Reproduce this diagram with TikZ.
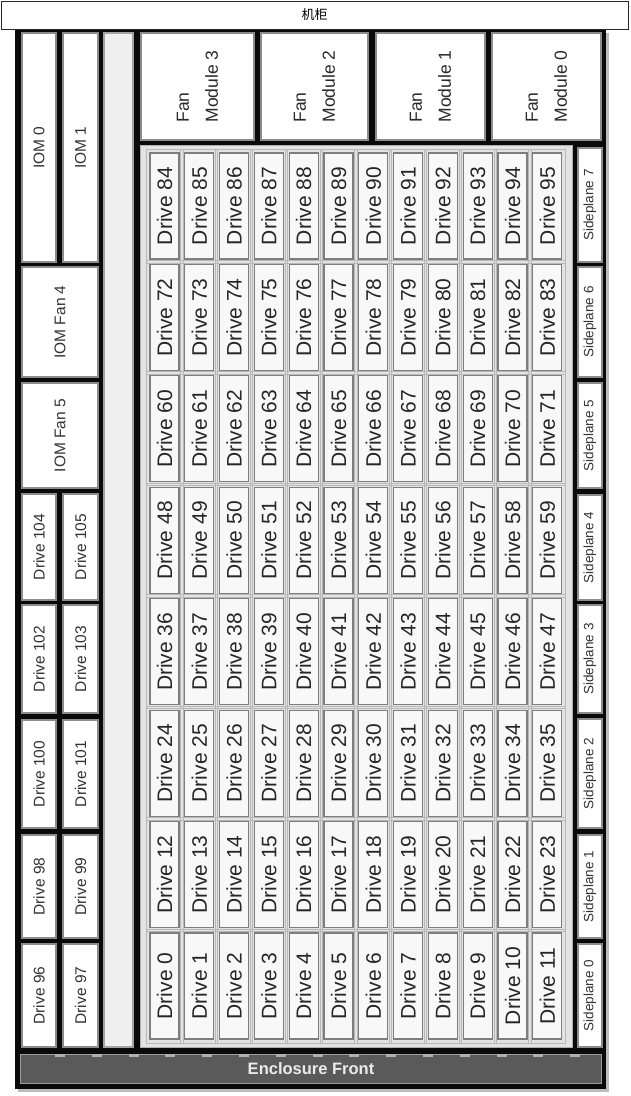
\documentclass[tikz,border=0pt]{standalone}
\usepackage{fontspec}
\setmainfont{Liberation Sans}
\newfontfamily\cjk{Noto Sans CJK SC}
\definecolor{encblack}{HTML}{0A0A0A}
\definecolor{boxgray}{HTML}{8C8C8C}
\definecolor{stripgray}{HTML}{EFEFEF}
\definecolor{gridbg}{HTML}{E3E3E3}
\definecolor{cellline}{HTML}{B8B8B8}
\definecolor{drivefill}{HTML}{F8F8F8}
\definecolor{driveline}{HTML}{7E7E7E}
\definecolor{frontbar}{HTML}{5A5A5A}
\definecolor{frontline}{HTML}{9C9C9C}
\definecolor{labeltext}{HTML}{333333}
\definecolor{shadowgray}{HTML}{BDBDBD}
% box macro: name, x1, y1, x2, y2, style, text
\newcommand\rbox[7]{\node[#6, rotate=90, minimum width={#5-#3}, minimum height={#4-#2}] (#1) at ({(#2+#4)/2},{(#3+#5)/2}) {#7};}
\begin{document}
\begin{tikzpicture}[x=1pt,y=-1pt,
  panel/.style={draw=boxgray, line width=1.6pt, fill=white, inner sep=0pt, text=labeltext, font=\fontsize{15.5}{17}\selectfont},
  fanbox/.style={panel, font=\fontsize{17.5}{29}\selectfont, align=left, text=labeltext!80!black},
  sidebox/.style={panel, font=\fontsize{13.5}{15}\selectfont},
  stripbox/.style={draw=boxgray!80, line width=1.2pt, fill=stripgray, inner sep=0pt},
  gridbox/.style={draw=boxgray!70, line width=1pt, fill=gridbg, inner sep=0pt},
  drivebox/.style={draw=driveline, line width=1.1pt, fill=drivefill, inner sep=0pt, text=black!85, font=\fontsize{21}{22}\selectfont},
  frontbox/.style={draw=frontline, line width=1.4pt, fill=frontbar, inner sep=0pt, text=white!92!black, font=\bfseries\fontsize{16.5}{18}\selectfont},
  titlebox/.style={draw=black!85, line width=0.8pt, fill=white, inner sep=0pt, font=\cjk\fontsize{13}{14}\selectfont}
]
\useasboundingbox (0,0) rectangle (630,1096);
% title
\node[titlebox, minimum width=627pt, minimum height=28pt] (title) at (314.5,15) {机柜};
% enclosure shadow and frame
\fill[shadowgray] (18,33) rectangle (609,1092);
\fill[encblack] (15,30) rectangle (606,1089);
% left column
\rbox{iom0}{22}{33}{56}{262}{panel}{IOM 0}
\rbox{iom1}{63}{33}{98}{262}{panel}{IOM 1}
\rbox{iomfan4}{22}{267}{98}{377}{panel}{IOM Fan 4}
\rbox{iomfan5}{22}{383}{98}{488}{panel}{IOM Fan 5}
\rbox{d104}{22}{494}{56}{600}{panel}{Drive 104}
\rbox{d105}{63}{494}{98}{600}{panel}{Drive 105}
\rbox{d102}{22}{605}{56}{713}{panel}{Drive 102}
\rbox{d103}{63}{605}{98}{713}{panel}{Drive 103}
\rbox{d100}{22}{720}{56}{828}{panel}{Drive 100}
\rbox{d101}{63}{720}{98}{828}{panel}{Drive 101}
\rbox{d98}{22}{835}{56}{938}{panel}{Drive 98}
\rbox{d99}{63}{835}{98}{938}{panel}{Drive 99}
\rbox{d96}{22}{944}{56}{1047}{panel}{Drive 96}
\rbox{d97}{63}{944}{98}{1047}{panel}{Drive 97}
% blank strip
\rbox{strip}{104}{33}{133}{1047}{stripbox}{}
% fan modules
\rbox{fan3}{141}{33}{254}{140}{fanbox}{Fan\\Module 3}
\rbox{fan2}{261}{33}{368}{140}{fanbox}{Fan\\Module 2}
\rbox{fan1}{376}{33}{485}{140}{fanbox}{Fan\\Module 1}
\rbox{fan0}{492}{33}{601}{140}{fanbox}{Fan\\Module 0}
% drive grid background
\rbox{grid}{140}{145}{572}{1047}{gridbox}{}
\foreach \k in {0,...,7}{
  \foreach \j in {0,...,11}{
    \pgfmathsetmacro\xa{150+34.8*\j}
    \pgfmathsetmacro\ya{153+111.43*\k}
    \draw[cellline, line width=0.9pt] (\xa-4,\ya-4) rectangle (\xa+33,\ya+110);
  }
}
\foreach \k in {0,...,7}{
  \foreach \j in {0,...,11}{
    \pgfmathtruncatemacro\n{(7-\k)*12+\j}
    \pgfmathsetmacro\xa{150+34.8*\j}
    \pgfmathsetmacro\ya{153+111.43*\k}
    \pgfmathsetmacro\xb{\xa+29}
    \pgfmathsetmacro\yb{\ya+106}
    \rbox{drv\n}{\xa}{\ya}{\xb}{\yb}{drivebox}{Drive \n}
  }
}
% sideplanes
\rbox{sp7}{578}{148}{602}{262}{sidebox}{Sideplane 7}
\rbox{sp6}{578}{267}{602}{377}{sidebox}{Sideplane 6}
\rbox{sp5}{578}{383}{602}{488}{sidebox}{Sideplane 5}
\rbox{sp4}{578}{495}{602}{600}{sidebox}{Sideplane 4}
\rbox{sp3}{578}{605}{602}{713}{sidebox}{Sideplane 3}
\rbox{sp2}{578}{719}{602}{828}{sidebox}{Sideplane 2}
\rbox{sp1}{578}{835}{602}{938}{sidebox}{Sideplane 1}
\rbox{sp0}{578}{944}{602}{1047}{sidebox}{Sideplane 0}
% enclosure front
\node[frontbox, minimum width=581pt, minimum height=29pt] (front) at (311,1069) {Enclosure Front};
\foreach \t in {0,...,14}{
  \fill[frontline!80!white] ({60+36.8*\t-5},1053.5) rectangle ({60+36.8*\t+5},1057);
}
\end{tikzpicture}
\end{document}
